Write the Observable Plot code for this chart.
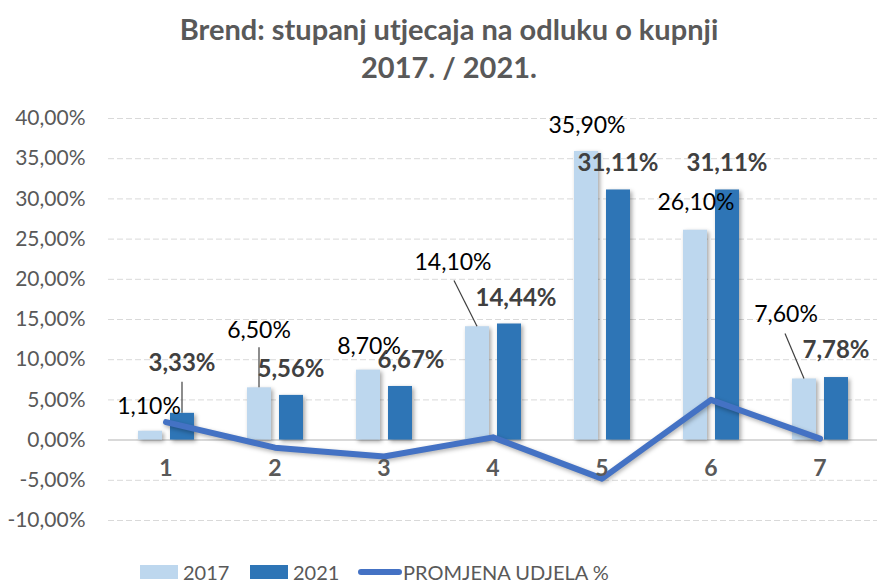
<!DOCTYPE html>
<html>
<head>
<meta charset="utf-8">
<script src="https://cdn.jsdelivr.net/npm/d3@7"></script>
<script src="https://cdn.jsdelivr.net/npm/@observablehq/plot@0.6"></script>
<style>
  html, body { margin: 0; padding: 0; background: #fff; overflow: hidden; }
  body { width: 877px; height: 584px; font-family: Lato, "Open Sans", sans-serif; }
  #title { height: 95px; box-sizing: border-box; padding-top: 10px; padding-left: 21px; text-align: center;
           font-weight: bold; font-size: 29px; line-height: 38px; color: #595959; }
  #chart svg { display: block; }
  #legend { position: relative; height: 44px; font-size: 20px; color: #595959; }
  #legend > * { position: absolute; }
  .sw { top: 25px; width: 38px; height: 14px; }
  .ln { top: 29px; width: 44px; height: 6px; border-radius: 3px; background: #4472C4; }
  .lt { top: 19px; line-height: 26px; }
</style>
</head>
<body>
<div id="title">Brend: stupanj utjecaja na odluku o kupnji<br>2017. / 2021.</div>
<div id="chart"></div>
<div id="legend">
  <span class="sw" style="left:140px;background:#BDD7EE"></span><span class="lt" style="left:183px">2017</span>
  <span class="sw" style="left:250px;background:#2E75B6"></span><span class="lt" style="left:293px">2021</span>
  <span class="ln" style="left:358px"></span><span class="lt" style="left:403px">PROMJENA UDJELA %</span>
</div>
<script>
// ---- data ----
const categories = ["1", "2", "3", "4", "5", "6", "7"];
const values2017 = [1.10, 6.50, 8.70, 14.10, 35.90, 26.10, 7.60];
const values2021 = [3.33, 5.56, 6.67, 14.44, 31.11, 31.11, 7.78];
const change = [2.23, -0.94, -2.03, 0.34, -4.79, 5.01, 0.18];
const yTicks = [-10, -5, 0, 5, 10, 15, 20, 25, 30, 35, 40];

// label offsets (pixels) — style only
const dx2017 = [-17, -16, -15, -40, -15, -15, -34];
const dy2017 = [-25, -57, -24, -64, -26, -28, -64];
const dx2021 = [16, 16, 27, 23, 16, 16, 16];
const dy2021 = [-50, -26, -26, -26, -27, -27, -27];

// leader lines: category, series, value at label end
const leaderCats = ["1", "2", "4", "7"];
const leaderSeries = ["2021", "2017", "2017", "2017"];
const leaderTop = [7.2, 11.5, 19.8, 13.2];
const leaderTopDx = [0, 0, -23, -19];

const fmt = v => v.toFixed(2).replace(".", ",") + "%";

const rows2017 = categories.map((c, i) => ({cat: c, v: values2017[i], dx: dx2017[i], dy: dy2017[i]}));
const rows2021 = categories.map((c, i) => ({cat: c, v: values2021[i], dx: dx2021[i], dy: dy2021[i]}));
const rowsChange = categories.map((c, i) => ({cat: c, v: change[i]}));
const leaders = leaderCats.map((c, i) => ({cat: c, series: leaderSeries[i], top: leaderTop[i], tdx: leaderTopDx[i],
  v: (leaderSeries[i] === "2017" ? values2017 : values2021)[categories.indexOf(c)]}));

const barOffset = {"2017": -15.5, "2021": 16.5};

const plot = Plot.plot({
  width: 877,
  height: 445,
  marginTop: 23,
  marginBottom: 20,
  marginLeft: 108,
  marginRight: 0,
  style: {fontFamily: "Lato, 'Open Sans', sans-serif", background: "#fff"},
  x: {domain: categories, type: "band", paddingInner: 0, paddingOuter: 0, axis: null},
  y: {domain: [-10, 40], axis: null},
  marks: [
    Plot.gridY(yTicks, {stroke: "#D9D9D9", strokeOpacity: 1, strokeDasharray: "6,3", strokeWidth: 1}),
    Plot.axisY(yTicks, {tickSize: 0, tickPadding: 23, tickFormat: fmt, fontSize: 21, fill: "#595959", label: null}),
    Plot.ruleY([0], {stroke: "#D9D9D9", strokeWidth: 2}),
    Plot.barY(rows2017, {x: "cat", y: "v", fill: "#BDD7EE", insetLeft: 27, insetRight: 58}),
    Plot.barY(rows2021, {x: "cat", y: "v", fill: "#2E75B6", insetLeft: 59, insetRight: 26}),
    Plot.lineY(rowsChange, {x: "cat", y: "v", stroke: "#4472C4", strokeWidth: 6, strokeLinejoin: "round", strokeLinecap: "round"}),
    (index, scales) => {
      const {x, y} = scales;
      const bw = typeof x.bandwidth === "function" ? x.bandwidth() : 110;
      const g = d3.create("svg:g").attr("aria-label", "leaders");
      for (const l of leaders) {
        const cx = x(l.cat) + bw / 2 + barOffset[l.series];
        g.append("line")
          .attr("x1", cx).attr("y1", y(l.v))
          .attr("x2", cx + l.tdx).attr("y2", y(l.top))
          .attr("stroke", "#404040").attr("stroke-width", 1.2);
      }
      return g.node();
    },
    Plot.text(categories, {x: d => d, frameAnchor: "bottom", dy: -45, text: d => d, fontSize: 23, fontWeight: "bold", fill: "#595959"}),
    ...rows2017.map(r => Plot.text([r], {x: "cat", y: "v", dx: r.dx, dy: r.dy, text: d => fmt(d.v), fontSize: 23, fill: "#000"})),
    ...rows2021.map(r => Plot.text([r], {x: "cat", y: "v", dx: r.dx, dy: r.dy, text: d => fmt(d.v), fontSize: 24, fontWeight: "bold", fill: "#404040"}))
  ]
});
plot.querySelectorAll('g[aria-label="bar"]').forEach(g => g.style.filter = "drop-shadow(2px 2px 2px rgba(0,0,0,0.35))");
plot.querySelectorAll('g[aria-label="line"]').forEach(g => g.style.filter = "drop-shadow(1px 2px 2px rgba(0,0,0,0.3))");
document.getElementById("chart").appendChild(plot);
</script>
</body>
</html>
